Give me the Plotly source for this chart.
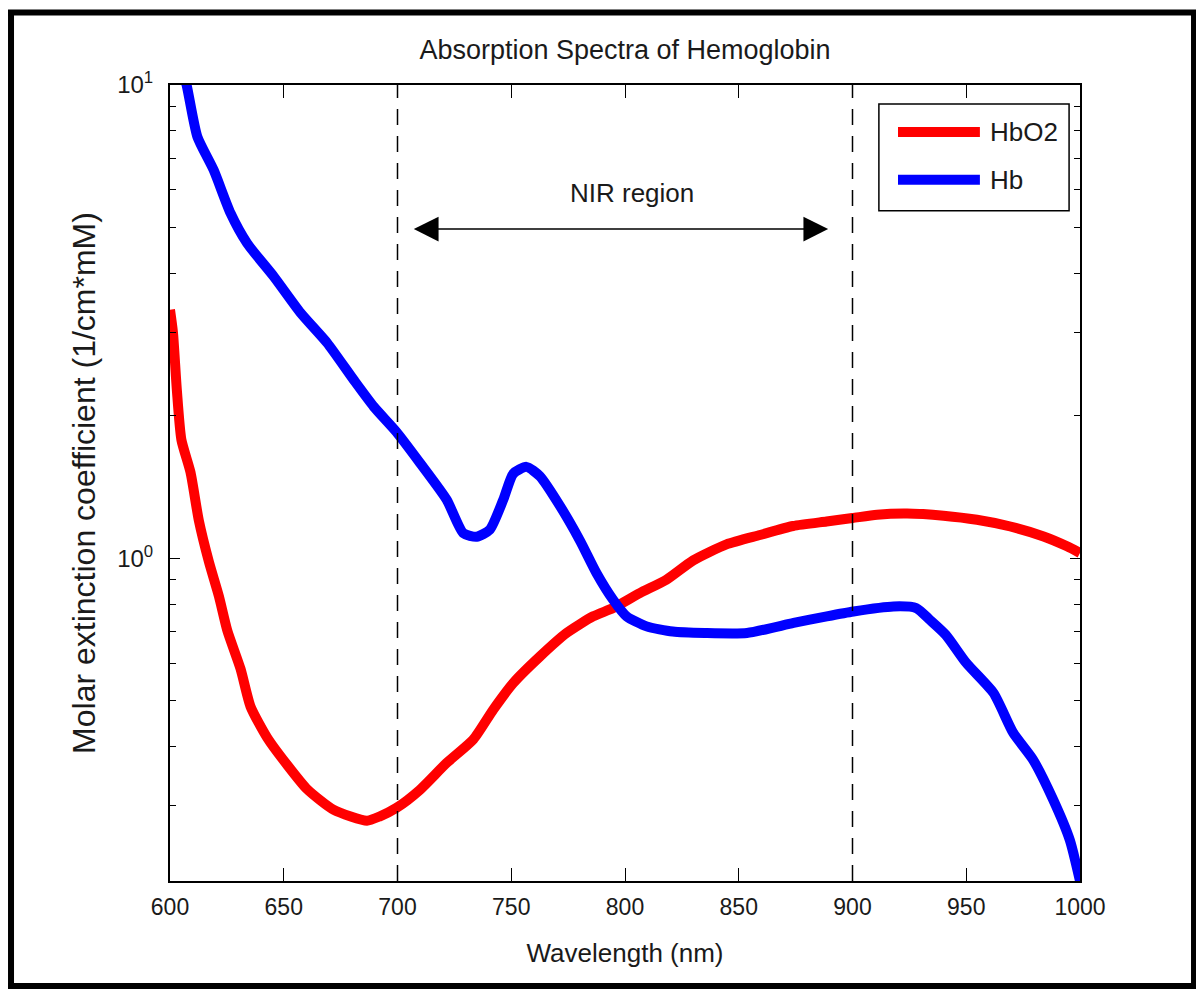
import math
import plotly.graph_objects as go

# ---------------- data ----------------
wavelength_hbo2 = [600, 601.3, 603, 605, 609, 612.7, 617.1, 621.5, 625.2, 631,
                   635.4, 642.7, 651.5, 660.3, 672, 686.6, 692.3, 699.6, 709.8, 721.5,
                   733.3, 742.1, 750.9, 762.6, 774.3, 786, 794.8, 806.5, 818.2, 830,
                   844.6, 859.3, 873.9, 888.6, 900, 910.8, 924, 940, 954.7, 969.4,
                   984, 994.3, 1000]
hbo2 = [3.35, 3.0, 2.27, 1.78, 1.52, 1.20, 0.983, 0.831, 0.703, 0.584,
        0.486, 0.418, 0.366, 0.325, 0.294, 0.279, 0.285, 0.297, 0.324, 0.369,
        0.414, 0.479, 0.545, 0.620, 0.695, 0.754, 0.785, 0.844, 0.901, 0.99,
        1.07, 1.12, 1.17, 1.196, 1.216, 1.236, 1.243, 1.23, 1.206, 1.167,
        1.112, 1.06, 1.026]

wavelength_hb = [605, 607.3, 612, 619.2, 626.6, 633.9, 645.6, 657.4, 669.1, 680.8,
                 689.6, 699.5, 709.9, 721.6, 728.9, 734.8, 740.6, 746.5, 750.9, 756.7,
                 762.6, 771.4, 780.2, 787.5, 794.8, 800.7, 809.5, 821, 835, 853.6,
                 874.1, 888.7, 900.4, 918, 928, 934, 941, 950, 962, 970.6,
                 979.4, 988.2, 995.5, 1000]
hb = [10.9, 10.0, 7.78, 6.61, 5.36, 4.63, 3.94, 3.30, 2.85, 2.38,
      2.09, 1.85, 1.59, 1.33, 1.13, 1.11, 1.15, 1.33, 1.51, 1.56,
      1.49, 1.29, 1.09, 0.93, 0.817, 0.754, 0.718, 0.700, 0.695, 0.695,
      0.730, 0.754, 0.772, 0.791, 0.785, 0.741, 0.689, 0.601, 0.519, 0.428,
      0.375, 0.309, 0.254, 0.208]

series_names = ["HbO2", "Hb"]
series_colors = ["#FF0000", "#0000FF"]

x_tick_values = [600, 650, 700, 750, 800, 850, 900, 950, 1000]
y_tick_values = [1, 10]
y_tick_text = ["10<sup>0</sup>", "10<sup>1</sup>"]
y_minor_values = [0.3, 0.4, 0.5, 0.6, 0.7, 0.8, 0.9, 2, 3, 4, 5, 6, 7, 8, 9]
x_range = [600, 1000]
y_range = [0.208, 10]

nir_bounds = [700, 900]
nir_arrow_ends = [706.5, 889.3]
nir_arrow_level = 4.96
nir_label_pos = [803, 5.9]
nir_label = "NIR region"

title_text = "Absorption Spectra of Hemoglobin"
x_title = "Wavelength (nm)"
y_title = "Molar extinction coefficient (1/cm*mM)"

# ---------------- figure ----------------
FONT = "Liberation Sans, Arial, Helvetica, sans-serif"
TXT = "#1a1a1a"

fig = go.Figure()
for xs, ys, name, color in [(wavelength_hbo2, hbo2, series_names[0], series_colors[0]),
                            (wavelength_hb, hb, series_names[1], series_colors[1])]:
    fig.add_trace(go.Scatter(x=xs, y=ys, mode="lines", name=name, showlegend=False,
                             line=dict(color=color, width=10, shape="spline", smoothing=0.6)))

# dashed NIR boundaries
for b in nir_bounds:
    fig.add_shape(type="line", xref="x", yref="paper", x0=b, x1=b, y0=0, y1=1,
                  line=dict(color="black", width=1.5, dash="16px,11px"), layer="above")

# double arrow + label
fig.add_annotation(x=nir_arrow_ends[1], y=math.log10(nir_arrow_level),
                   ax=nir_arrow_ends[0], ay=math.log10(nir_arrow_level),
                   xref="x", yref="y", axref="x", ayref="y", text="",
                   showarrow=True, arrowhead=2, startarrowhead=2, arrowside="end+start",
                   arrowsize=3.3, startarrowsize=3.3, arrowwidth=1.5, arrowcolor="black")
fig.add_annotation(x=nir_label_pos[0], y=math.log10(nir_label_pos[1]), xref="x", yref="y",
                   text=nir_label, showarrow=False,
                   font=dict(family=FONT, size=26, color=TXT))

# legend drawn like the reference (long, thick line samples)
leg_x0, leg_x1, leg_y0, leg_y1 = 0.779, 0.988, 0.842, 0.976
fig.add_shape(type="rect", xref="paper", yref="paper", x0=leg_x0, x1=leg_x1, y0=leg_y0, y1=leg_y1,
              line=dict(color="black", width=1.5), fillcolor="white", layer="above")
leg_rows = [0.941, 0.881]
for name, color, yy in zip(series_names, series_colors, leg_rows):
    fig.add_shape(type="line", xref="paper", yref="paper", x0=0.800, x1=0.890, y0=yy, y1=yy,
                  line=dict(color=color, width=10), layer="above")
    fig.add_annotation(xref="paper", yref="paper", x=0.899, y=yy, text=name, showarrow=False,
                       xanchor="left", yanchor="middle",
                       font=dict(family=FONT, size=26, color=TXT))

# outer black frame around the whole figure
fig.add_shape(type="rect", xref="paper", yref="paper", x0=-0.1747, x1=1.1253, y0=-0.1319, y1=1.0911,
              line=dict(color="black", width=6), layer="above")

fig.update_layout(
    width=1196, height=982, autosize=False,
    margin=dict(l=162, r=124, t=77, b=109),
    paper_bgcolor="white", plot_bgcolor="white",
    font=dict(family=FONT, color=TXT, size=22),
    title=dict(text=title_text, x=0.5, xref="paper", xanchor="center",
               y=1 - 42 / 982, yref="container", yanchor="middle",
               font=dict(family=FONT, size=27, color=TXT)),
)
fig.update_xaxes(range=x_range, tickvals=x_tick_values, ticks="inside", ticklen=13, tickwidth=1.3,
                 tickcolor="black", showline=True, linecolor="black", linewidth=2, mirror="ticks",
                 showgrid=False, zeroline=False, ticklabelstandoff=4,
                 tickfont=dict(family=FONT, size=23, color=TXT),
                 title=dict(text=x_title, standoff=25, font=dict(family=FONT, size=26, color=TXT)))
fig.update_yaxes(type="log", range=[math.log10(y_range[0]), math.log10(y_range[1])],
                 tickvals=y_tick_values, ticktext=y_tick_text, ticks="inside", ticklen=10,
                 tickwidth=1.3, tickcolor="black", showline=True, linecolor="black", linewidth=2,
                 mirror="ticks", showgrid=False, zeroline=False, ticklabelstandoff=10,
                 minor=dict(tickvals=y_minor_values, ticks="inside", ticklen=6, tickcolor="black",
                            tickwidth=1.3, showgrid=False),
                 tickfont=dict(family=FONT, size=24, color=TXT),
                 title=dict(text=y_title, standoff=12, font=dict(family=FONT, size=32, color=TXT)))

fig.write_html("out.html")
